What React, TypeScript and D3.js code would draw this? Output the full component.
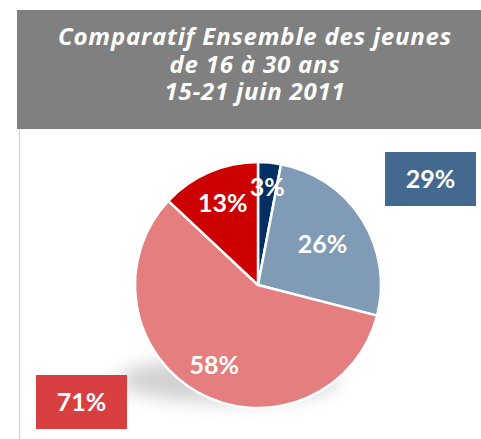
import React from "react";
import * as d3 from "d3";

const titleLines = ["Comparatif Ensemble des jeunes", "de 16 à 30 ans", "15-21 juin 2011"];
const sliceLabels = ["3%", "26%", "58%", "13%"];
const sliceValues = [3, 26, 58, 13];
const sliceColors = ["#003063", "#7f9bb5", "#e47e7f", "#cc0000"];
const boxLabels = ["29%", "71%"];
const boxColors = ["#436a8e", "#d83f41"];

const W = 481;
const H = 439;

export default function App() {
  const cx = 258;
  const cy = 285;
  const r = 123;
  const pie = d3.pie<number>().sort(null).value((d) => d)(sliceValues);
  const arc = d3.arc<d3.PieArcDatum<number>>().innerRadius(0).outerRadius(r);
  const labelArcs = [0.8, 0.62, 0.74, 0.72];
  const font = "Lato, 'Open Sans', sans-serif";
  return (
    <svg width={W} height={H} style={{ position: "absolute", left: 0, top: 0 }}>
      <defs>
        <filter id="blur" x="-50%" y="-50%" width="200%" height="200%">
          <feGaussianBlur stdDeviation="9" />
        </filter>
      </defs>
      <rect x={0} y={0} width={W} height={H} fill="#ffffff" />
      <line x1={19.5} x2={19.5} y1={129} y2={H} stroke="#d9d9d9" strokeWidth={1.5} />
      <rect x={17} y={10} width={W - 17} height={119} fill="#808080" />
      {titleLines.map((t, i) => (
        <text
          key={i}
          x={255}
          y={45 + i * 27.5}
          textAnchor="middle"
          fill="#ffffff"
          fontFamily="'Open Sans', sans-serif"
          fontStyle="italic"
          fontWeight="bold"
          fontSize={24}
          letterSpacing={0.8}
        >
          {t}
        </text>
      ))}
      <ellipse cx={cx - 30} cy={cy + 95} rx={110} ry={22} fill="#9a9a9a" opacity={0.45} filter="url(#blur)" />
      <g transform={`translate(${cx},${cy})`}>
        {pie.map((p, i) => (
          <path key={i} d={arc(p) || ""} fill={sliceColors[i]} stroke="#ffffff" strokeWidth={2.5} strokeLinejoin="round" />
        ))}
        {pie.map((p, i) => {
          const a = (p.startAngle + p.endAngle) / 2;
          const rr = r * labelArcs[i];
          const x = Math.sin(a) * rr;
          const y = -Math.cos(a) * rr;
          return (
            <text key={i} x={x} y={y} dy="0.35em" textAnchor="middle" fill="#ffffff" fontFamily={font} fontWeight="bold" fontSize={25}>
              {sliceLabels[i]}
            </text>
          );
        })}
      </g>
      <rect x={385} y={152} width={91} height={54} fill={boxColors[0]} />
      <text x={430.5} y={179} dy="0.35em" textAnchor="middle" fill="#ffffff" fontFamily={font} fontWeight="bold" fontSize={25}>
        {boxLabels[0]}
      </text>
      <rect x={36} y={375} width={91} height={54} fill={boxColors[1]} />
      <text x={81.5} y={402} dy="0.35em" textAnchor="middle" fill="#ffffff" fontFamily={font} fontWeight="bold" fontSize={25}>
        {boxLabels[1]}
      </text>
    </svg>
  );
}
